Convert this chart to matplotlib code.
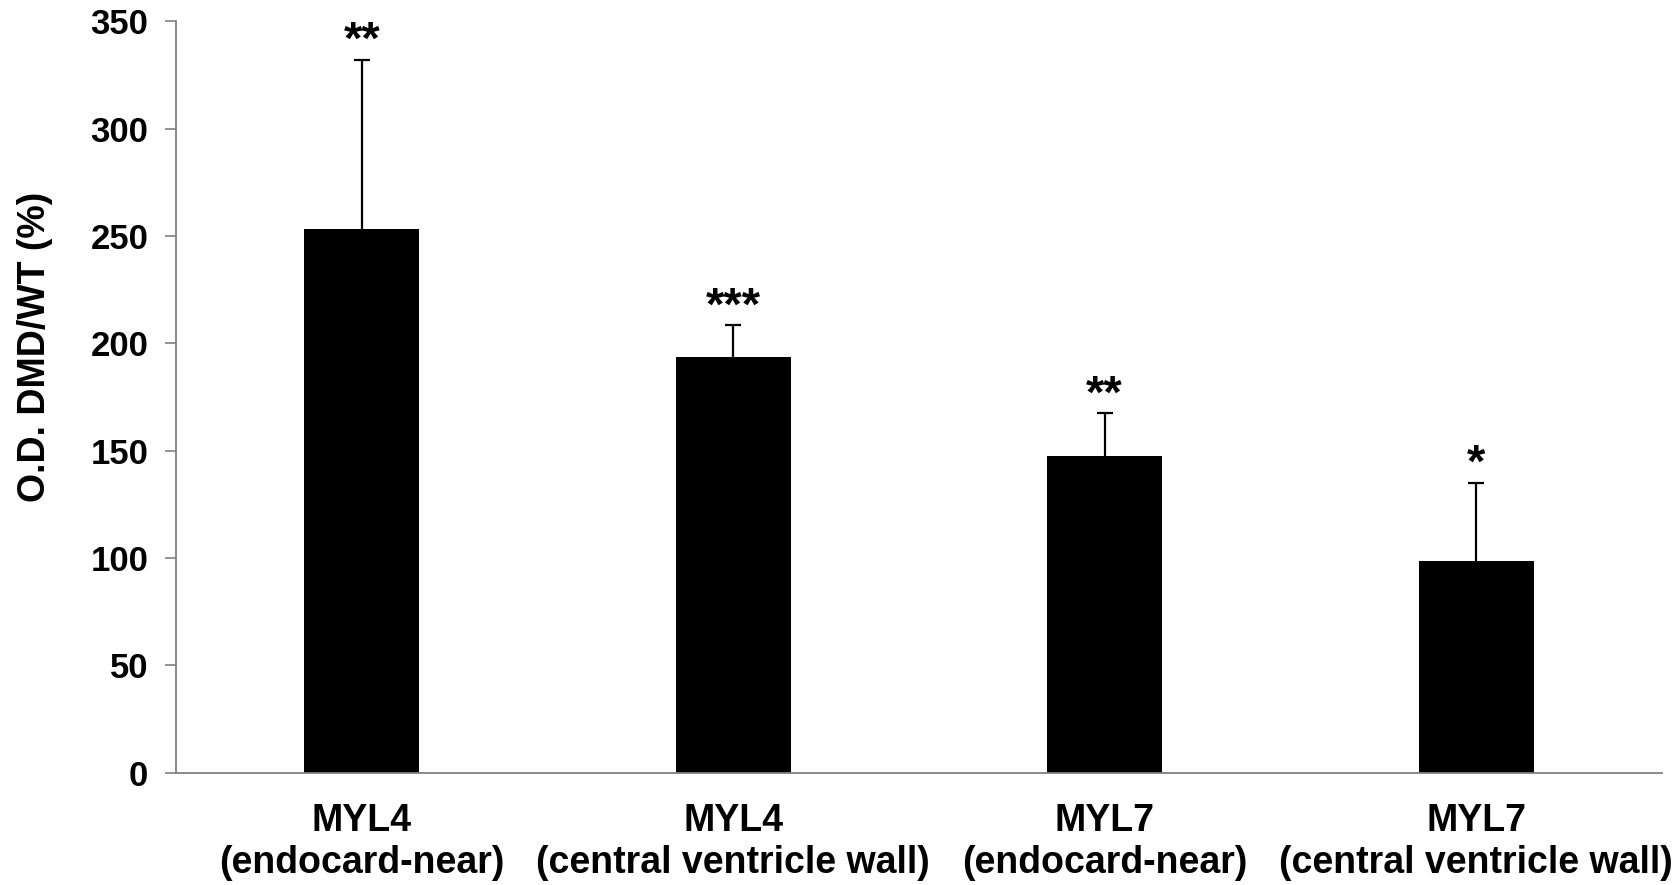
import matplotlib.pyplot as plt
import numpy as np

categories = ["MYL4\n(endocard-near)", "MYL4\n(central ventricle wall)",
              "MYL7\n(endocard-near)", "MYL7\n(central ventricle wall)"]
values = [253, 193.5, 147.5, 98.5]
errors = [79, 15, 20, 36.5]
stars = ["**", "***", "**", "*"]

plt.rcParams['font.family'] = ['Liberation Sans', 'DejaVu Sans']
plt.rcParams['font.weight'] = 'bold'

fig = plt.figure(figsize=(16.77, 8.85), dpi=100)
ax = fig.add_axes([0.105, 0.127, 0.886, 0.849])

x = np.arange(len(categories))
# symmetric error bars, lower half is hidden behind the bars
ax.errorbar(x, values, yerr=errors, fmt='none',
            ecolor='black', elinewidth=1.6, capsize=5.5, capthick=1.6, zorder=1)
ax.bar(x, values, width=0.31, color='black', zorder=2)

for xi, v, e, s in zip(x, values, errors, stars):
    ax.text(xi, v + e - 2, s, ha='center', va='bottom', fontsize=34, fontweight='bold')

ax.set_xlim(-0.5, len(categories) - 0.5)
ax.set_ylim(0, 350)
ax.set_yticks(np.arange(0, 351, 50))
ax.set_xticks(x)
ax.set_xticklabels(categories, fontsize=27, fontweight='bold', linespacing=1.22)
ax.tick_params(axis='x', length=0, pad=22)
ax.tick_params(axis='y', labelsize=25, length=8, width=1.2, color='#808080', pad=12)
for lab in ax.get_yticklabels():
    lab.set_fontweight('bold')

for side in ['top', 'right']:
    ax.spines[side].set_visible(False)
for side in ['left', 'bottom']:
    ax.spines[side].set_color('#808080')
    ax.spines[side].set_linewidth(1.3)

ax.set_ylabel("O.D. DMD/WT (%)", fontsize=27, fontweight='bold')
ax.yaxis.set_label_coords(-0.083, 0.566)

fig.savefig("out.png", dpi=100)
